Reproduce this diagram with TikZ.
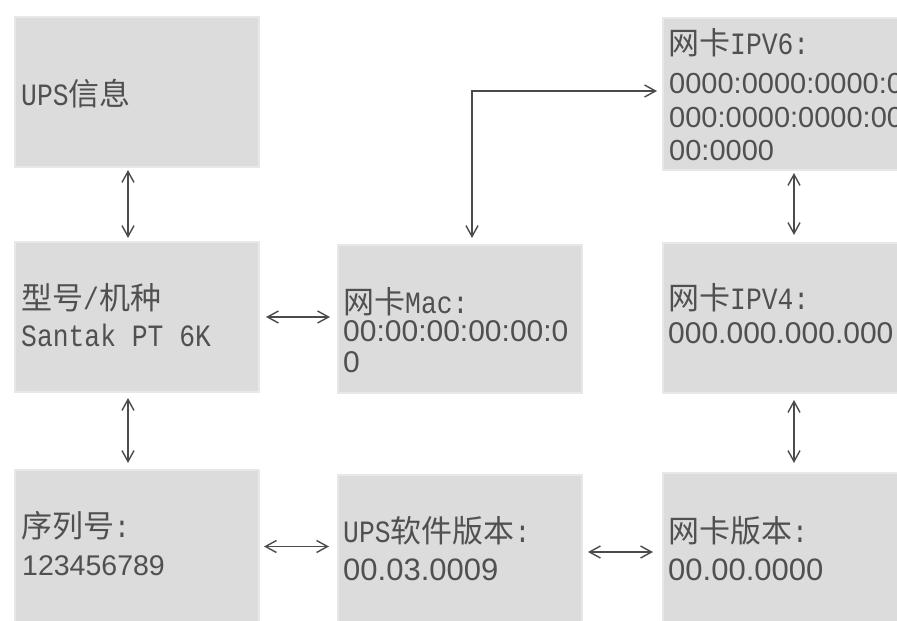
\documentclass[tikz,border=0pt]{standalone}
\usepackage{fontspec}
\setmainfont{Noto Sans CJK SC}
\newfontfamily\monof[FakeStretch=0.85]{Liberation Mono}
\newfontfamily\digf{Liberation Sans}
\newcommand\mylat[1]{{\monof #1}}
\usetikzlibrary{arrows.meta}
\definecolor{boxfill}{RGB}{220,220,220}
\definecolor{boxedge}{RGB}{232,232,232}
\definecolor{inkc}{RGB}{80,80,80}
\definecolor{arrowc}{RGB}{75,75,75}
\begin{document}
\begin{tikzpicture}[x=1pt,y=-1pt,
  box/.style={fill=boxfill,draw=boxedge,line width=2pt,inner sep=0pt,outer sep=0pt,anchor=north west},
  txt/.style={anchor=base west,inner sep=0pt,text=inkc,font=\fontsize{31}{31}\selectfont},
  dig/.style={anchor=base west,inner sep=0pt,text=inkc,font=\fontsize{30}{30}\selectfont\digf},
  digs/.style={dig,font=\fontsize{29}{29}\selectfont\digf},
  arr/.style={draw=arrowc,line width=1.4pt,
    {Straight Barb[length=11pt,width=12pt]}-{Straight Barb[length=11pt,width=12pt]},
    shorten >=5pt,shorten <=5pt}]
\useasboundingbox (0,0) rectangle (897,621);
\fill[white] (0,0) rectangle (897,621);
% boxes
\node[box,minimum width=244pt,minimum height=150pt] (b1) at (15,17) {};
\node[box,minimum width=244pt,minimum height=150pt] (b2) at (15,242) {};
\node[box,minimum width=244pt,minimum height=153pt] (b3) at (15,470) {};
\node[box,minimum width=244pt,minimum height=148pt] (mac) at (338,245) {};
\node[box,minimum width=244pt,minimum height=148pt] (sw) at (338,475) {};
\node[box,minimum width=236pt,minimum height=152pt] (v6) at (663,18) {};
\node[box,minimum width=236pt,minimum height=150pt] (v4) at (663,243) {};
\node[box,minimum width=236pt,minimum height=150pt] (nv) at (663,473) {};
% texts
\node[txt] (t1) at (21,105) {\mylat{UPS}信息};
\node[txt] (t2a) at (21,309) {型号\mylat{/}机种};
\node[txt] (t2b) at (21,346) {\mylat{Santak PT 6K}};
\node[txt] (t3a) at (21,537) {序列号\mylat{:}};
\node[dig,font=\fontsize{28.5}{28.5}\selectfont\digf] (t3b) at (22,575) {123456789};
\node[txt] (tma) at (343,313) {网卡\mylat{Mac:}};
\node[dig] (tmb) at (343,341) {00:00:00:00:00:0};
\node[dig] (tmc) at (343,372) {0};
\node[txt] (tsa) at (343,542) {\mylat{UPS}软件版本\mylat{:}};
\node[dig,font=\fontsize{31}{31}\selectfont\digf] (tsb) at (343,580) {00.03.0009};
\node[txt] (t6a) at (668,54) {网卡\mylat{IPV6:}};
\node[digs] (t6b) at (669,93) {0000:0000:0000:0};
\node[digs] (t6c) at (669,127) {000:0000:0000:00};
\node[digs] (t6d) at (669,160) {00:0000};
\node[txt] (t4a) at (668,309) {网卡\mylat{IPV4:}};
\node[dig] (t4b) at (668,343) {000.000.000.000};
\node[txt] (tna) at (668,542) {网卡版本\mylat{:}};
\node[dig,font=\fontsize{31}{31}\selectfont\digf] (tnb) at (668,580) {00.00.0000};
% connectors
\draw[arr,shorten <=3pt,shorten >=4pt] ([xshift=-9pt]b1.south) -- ([xshift=-9pt]b2.north);
\draw[arr,shorten <=6pt,shorten >=7pt] ([xshift=-9pt]b2.south) -- ([xshift=-9pt]b3.north);
\draw[arr,shorten <=7pt,shorten >=8pt] (b2.east) -- (b2.east -| mac.west);
\draw[arr,shorten <=5pt,shorten >=9pt] (b3.east) -- (b3.east -| sw.west);
\draw[arr,shorten <=6pt,shorten >=10pt] ([yshift=-3pt]sw.east) -- ([yshift=-3pt]sw.east -| nv.west);
\draw[arr,shorten <=3pt,shorten >=8pt] ([xshift=13pt]v6.south) -- ([xshift=13pt]v4.north);
\draw[arr,shorten <=7pt,shorten >=10pt] ([xshift=13pt]v4.south) -- ([xshift=13pt]nv.north);
\draw[arr,shorten <=7pt,shorten >=6pt] ([xshift=12pt]mac.north) |- ([yshift=3pt]v6.west);
\end{tikzpicture}
\end{document}
